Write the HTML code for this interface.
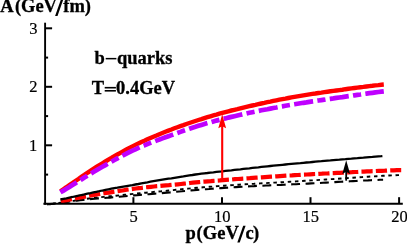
<!DOCTYPE html>
<html><head><meta charset="utf-8"><style>
html,body{margin:0;padding:0;background:#fff;}
svg{display:block;will-change:transform;opacity:0.999}
text{font-family:"Liberation Serif",serif;fill:#000}
.b{font-weight:bold;font-size:18.5px;stroke:#000;stroke-width:0.3px}
.t{font-size:16.5px;stroke:#000;stroke-width:0.2px}
</style></head><body>
<svg width="407" height="246" viewBox="0 0 407 246">
<rect width="407" height="246" fill="#fff"/>
<g fill="none">
<path d="M60.4,191.3 L63.4,189.2 L66.4,187.2 L69.4,185.1 L72.4,183.1 L75.4,181.0 L78.4,179.0 L81.4,176.9 L84.4,174.9 L87.4,172.8 L90.4,170.8 L93.4,168.8 L96.4,166.9 L99.4,165.1 L102.4,163.3 L105.4,161.5 L108.4,159.7 L111.4,158.0 L114.4,156.2 L117.4,154.5 L120.4,152.8 L123.4,151.1 L126.4,149.5 L129.4,147.9 L132.4,146.4 L135.4,144.9 L138.4,143.4 L141.4,142.0 L144.4,140.7 L147.4,139.3 L150.4,138.0 L153.4,136.7 L156.4,135.5 L159.4,134.2 L162.4,133.0 L165.4,131.8 L168.4,130.6 L171.4,129.5 L174.4,128.3 L177.4,127.2 L180.4,126.1 L183.4,125.1 L186.4,124.0 L189.4,123.0 L192.4,122.0 L195.4,121.0 L198.4,120.0 L201.4,119.1 L204.4,118.1 L207.4,117.2 L210.4,116.3 L213.4,115.4 L216.4,114.6 L219.4,113.7 L222.4,112.9 L225.4,112.1 L228.4,111.3 L231.4,110.5 L234.4,109.8 L237.4,109.1 L240.4,108.3 L243.4,107.6 L246.4,106.9 L249.4,106.2 L252.4,105.5 L255.4,104.9 L258.4,104.2 L261.4,103.5 L264.4,102.9 L267.4,102.2 L270.4,101.6 L273.4,100.9 L276.4,100.3 L279.4,99.7 L282.4,99.1 L285.4,98.6 L288.4,98.0 L291.4,97.4 L294.4,96.9 L297.4,96.4 L300.4,95.9 L303.4,95.4 L306.4,94.9 L309.4,94.4 L312.4,93.9 L315.4,93.5 L318.4,93.0 L321.4,92.6 L324.4,92.1 L327.4,91.7 L330.4,91.3 L333.4,90.9 L336.4,90.5 L339.4,90.1 L342.4,89.7 L345.4,89.2 L348.4,88.8 L351.4,88.4 L354.4,88.0 L357.4,87.6 L360.4,87.2 L363.4,86.9 L366.4,86.5 L369.4,86.1 L372.4,85.8 L375.4,85.4 L378.4,85.1 L381.4,84.7 L383.8,84.5" stroke="#ff0000" stroke-width="4.4"/>
<path d="M60.4,192.3 L63.4,190.6 L66.4,188.8 L69.4,187.0 L72.4,185.1 L75.4,183.2 L78.4,181.3 L81.4,179.4 L84.4,177.5 L87.4,175.7 L90.4,173.9 L93.4,172.1 L96.4,170.3 L99.4,168.5 L102.4,166.8 L105.4,165.1 L108.4,163.4 L111.4,161.7 L114.4,160.0 L117.4,158.4 L120.4,156.8 L123.4,155.2 L126.4,153.6 L129.4,152.1 L132.4,150.6 L135.4,149.3 L138.4,147.9 L141.4,146.6 L144.4,145.4 L147.4,144.1 L150.4,142.9 L153.4,141.8 L156.4,140.6 L159.4,139.5 L162.4,138.4 L165.4,137.3 L168.4,136.2 L171.4,135.1 L174.4,134.0 L177.4,132.9 L180.4,131.9 L183.4,130.8 L186.4,129.8 L189.4,128.7 L192.4,127.7 L195.4,126.8 L198.4,125.8 L201.4,124.9 L204.4,124.0 L207.4,123.1 L210.4,122.3 L213.4,121.4 L216.4,120.6 L219.4,119.9 L222.4,119.1 L225.4,118.4 L228.4,117.6 L231.4,116.9 L234.4,116.2 L237.4,115.5 L240.4,114.8 L243.4,114.1 L246.4,113.5 L249.4,112.8 L252.4,112.2 L255.4,111.6 L258.4,110.9 L261.4,110.3 L264.4,109.7 L267.4,109.2 L270.4,108.6 L273.4,108.0 L276.4,107.5 L279.4,106.9 L282.4,106.4 L285.4,105.8 L288.4,105.3 L291.4,104.8 L294.4,104.3 L297.4,103.8 L300.4,103.3 L303.4,102.8 L306.4,102.4 L309.4,101.9 L312.4,101.4 L315.4,101.0 L318.4,100.5 L321.4,100.1 L324.4,99.7 L327.4,99.2 L330.4,98.8 L333.4,98.4 L336.4,97.9 L339.4,97.5 L342.4,97.1 L345.4,96.6 L348.4,96.2 L351.4,95.8 L354.4,95.3 L357.4,94.9 L360.4,94.5 L363.4,94.0 L366.4,93.6 L369.4,93.2 L372.4,92.8 L375.4,92.4 L378.4,92.0 L381.4,91.6 L383.8,91.3" stroke="#bf00ff" stroke-width="4.7" stroke-dasharray="19.2 4.3 8.2 4.3"/>
<path d="M47.0,204.3 L50.0,204.1 L53.0,203.7 L56.0,203.3 L59.0,202.9 L62.0,202.5 L65.0,202.1 L68.0,201.7 L71.0,201.4 L74.0,201.0 L77.0,200.6 L80.0,200.2 L83.0,199.9 L86.0,199.5 L89.0,199.2 L92.0,198.9 L95.0,198.7 L98.0,198.4 L101.0,198.2 L104.0,198.0 L107.0,197.8 L110.0,197.6 L113.0,197.3 L116.0,197.1 L119.0,196.8 L122.0,196.5 L125.0,196.3 L128.0,196.0 L131.0,195.7 L134.0,195.4 L137.0,195.2 L140.0,194.9 L143.0,194.7 L146.0,194.4 L149.0,194.2 L152.0,193.9 L155.0,193.7 L158.0,193.4 L161.0,193.2 L164.0,192.9 L167.0,192.6 L170.0,192.4 L173.0,192.1 L176.0,191.8 L179.0,191.5 L182.0,191.3 L185.0,191.0 L188.0,190.7 L191.0,190.4 L194.0,190.2 L197.0,189.9 L200.0,189.7 L203.0,189.4 L206.0,189.2 L209.0,189.0 L212.0,188.7 L215.0,188.5 L218.0,188.3 L221.0,188.1 L224.0,187.9 L227.0,187.7 L230.0,187.5 L233.0,187.3 L236.0,187.1 L239.0,186.9 L242.0,186.8 L245.0,186.6 L248.0,186.4 L251.0,186.2 L254.0,186.1 L257.0,185.9 L260.0,185.8 L263.0,185.7 L266.0,185.5 L269.0,185.4 L272.0,185.2 L275.0,185.1 L278.0,185.0 L281.0,184.9 L284.0,184.7 L287.0,184.6 L290.0,184.5 L293.0,184.3 L296.0,184.2 L299.0,184.0 L302.0,183.9 L305.0,183.8 L308.0,183.6 L311.0,183.4 L314.0,183.3 L317.0,183.1 L320.0,183.0 L323.0,182.8 L326.0,182.6 L329.0,182.5 L332.0,182.3 L335.0,182.1 L338.0,181.9 L341.0,181.8 L344.0,181.6 L347.0,181.4 L350.0,181.3 L353.0,181.1 L356.0,181.0 L359.0,180.8 L362.0,180.6 L365.0,180.5 L368.0,180.4 L371.0,180.2 L374.0,180.1 L377.0,180.0 L380.0,179.8 L383.0,179.7 L383.1,179.7" stroke="#000" stroke-width="2.1" stroke-dasharray="8.88 5.53" stroke-dashoffset="-0.12"/>
<path d="M47.0,204.3 L50.0,204.0 L53.0,203.7 L56.0,203.3 L59.0,202.9 L62.0,202.5 L65.0,202.0 L68.0,201.6 L71.0,201.1 L74.0,200.7 L77.0,200.2 L80.0,199.8 L83.0,199.3 L86.0,198.9 L89.0,198.5 L92.0,198.1 L95.0,197.8 L98.0,197.4 L101.0,197.2 L104.0,196.9 L107.0,196.6 L110.0,196.3 L113.0,196.1 L116.0,195.7 L119.0,195.4 L122.0,195.1 L125.0,194.7 L128.0,194.4 L131.0,194.1 L134.0,193.8 L137.0,193.5 L140.0,193.2 L143.0,192.9 L146.0,192.7 L149.0,192.4 L152.0,192.1 L155.0,191.8 L158.0,191.5 L161.0,191.3 L164.0,191.0 L167.0,190.7 L170.0,190.4 L173.0,190.1 L176.0,189.8 L179.0,189.5 L182.0,189.2 L185.0,188.9 L188.0,188.6 L191.0,188.4 L194.0,188.1 L197.0,187.8 L200.0,187.6 L203.0,187.3 L206.0,187.1 L209.0,186.8 L212.0,186.6 L215.0,186.4 L218.0,186.1 L221.0,185.9 L224.0,185.7 L227.0,185.5 L230.0,185.3 L233.0,185.1 L236.0,184.9 L239.0,184.7 L242.0,184.5 L245.0,184.3 L248.0,184.1 L251.0,183.9 L254.0,183.8 L257.0,183.6 L260.0,183.4 L263.0,183.2 L266.0,183.1 L269.0,182.9 L272.0,182.7 L275.0,182.6 L278.0,182.4 L281.0,182.2 L284.0,182.1 L287.0,181.9 L290.0,181.7 L293.0,181.5 L296.0,181.4 L299.0,181.2 L302.0,181.0 L305.0,180.8 L308.0,180.6 L311.0,180.4 L314.0,180.3 L317.0,180.1 L320.0,179.9 L323.0,179.7 L326.0,179.5 L329.0,179.3 L332.0,179.1 L335.0,178.9 L338.0,178.7 L341.0,178.5 L344.0,178.3 L347.0,178.1 L350.0,177.9 L353.0,177.7 L356.0,177.5 L359.0,177.3 L362.0,177.1 L365.0,176.9 L368.0,176.7 L371.0,176.5 L374.0,176.4 L377.0,176.2 L380.0,176.0 L383.0,175.8 L386.0,175.7 L389.0,175.5 L392.0,175.4 L395.0,175.3 L398.0,175.1 L399.0,175.1" stroke="#000" stroke-width="1.9" stroke-dasharray="3.5 3.7" stroke-dashoffset="-4.3"/>
<path d="M60.9,201.5 L63.9,200.8 L66.9,200.2 L69.9,199.5 L72.9,198.9 L75.9,198.3 L78.9,197.7 L81.9,197.1 L84.9,196.6 L87.9,196.0 L90.9,195.5 L93.9,195.0 L96.9,194.5 L99.9,194.0 L102.9,193.5 L105.9,193.0 L108.9,192.6 L111.9,192.1 L114.9,191.6 L117.9,191.1 L120.9,190.7 L123.9,190.2 L126.9,189.7 L129.9,189.3 L132.9,188.9 L135.9,188.5 L138.9,188.1 L141.9,187.8 L144.9,187.4 L147.9,187.1 L150.9,186.8 L153.9,186.5 L156.9,186.2 L159.9,186.0 L162.9,185.7 L165.9,185.4 L168.9,185.2 L171.9,184.9 L174.9,184.6 L177.9,184.3 L180.9,184.0 L183.9,183.7 L186.9,183.4 L189.9,183.0 L192.9,182.7 L195.9,182.4 L198.9,182.1 L201.9,181.8 L204.9,181.6 L207.9,181.3 L210.9,181.1 L213.9,180.8 L216.9,180.6 L219.9,180.4 L222.9,180.1 L225.9,179.9 L228.9,179.7 L231.9,179.5 L234.9,179.2 L237.9,179.0 L240.9,178.8 L243.9,178.6 L246.9,178.4 L249.9,178.2 L252.9,177.9 L255.9,177.7 L258.9,177.5 L261.9,177.3 L264.9,177.1 L267.9,176.9 L270.9,176.7 L273.9,176.5 L276.9,176.3 L279.9,176.1 L282.9,175.9 L285.9,175.7 L288.9,175.5 L291.9,175.4 L294.9,175.2 L297.9,175.0 L300.9,174.8 L303.9,174.6 L306.9,174.5 L309.9,174.3 L312.9,174.1 L315.9,174.0 L318.9,173.8 L321.9,173.7 L324.9,173.5 L327.9,173.4 L330.9,173.2 L333.9,173.1 L336.9,172.9 L339.9,172.8 L342.9,172.6 L345.9,172.5 L348.9,172.3 L351.9,172.2 L354.9,172.0 L357.9,171.9 L360.9,171.7 L363.9,171.6 L366.9,171.4 L369.9,171.3 L372.9,171.2 L375.9,171.0 L378.9,170.9 L381.9,170.8 L384.9,170.7 L387.9,170.5 L390.9,170.4 L393.9,170.3 L396.9,170.2 L399.9,170.1 L401.2,170.1" stroke="#ff0000" stroke-width="4.2" stroke-dasharray="11.2 3.2"/>
<path d="M60.4,199.5 L63.4,198.9 L66.4,198.3 L69.4,197.6 L72.4,197.0 L75.4,196.3 L78.4,195.7 L81.4,195.0 L84.4,194.4 L87.4,193.7 L90.4,193.1 L93.4,192.4 L96.4,191.8 L99.4,191.2 L102.4,190.5 L105.4,189.9 L108.4,189.3 L111.4,188.7 L114.4,188.2 L117.4,187.7 L120.4,187.1 L123.4,186.6 L126.4,186.1 L129.4,185.6 L132.4,185.1 L135.4,184.5 L138.4,184.0 L141.4,183.4 L144.4,182.8 L147.4,182.3 L150.4,181.7 L153.4,181.2 L156.4,180.7 L159.4,180.2 L162.4,179.7 L165.4,179.2 L168.4,178.7 L171.4,178.3 L174.4,177.8 L177.4,177.3 L180.4,176.8 L183.4,176.4 L186.4,175.9 L189.4,175.4 L192.4,175.0 L195.4,174.5 L198.4,174.1 L201.4,173.7 L204.4,173.3 L207.4,173.0 L210.4,172.6 L213.4,172.3 L216.4,171.9 L219.4,171.6 L222.4,171.3 L225.4,170.9 L228.4,170.6 L231.4,170.3 L234.4,169.9 L237.4,169.6 L240.4,169.3 L243.4,168.9 L246.4,168.6 L249.4,168.3 L252.4,167.9 L255.4,167.6 L258.4,167.3 L261.4,166.9 L264.4,166.6 L267.4,166.3 L270.4,166.0 L273.4,165.7 L276.4,165.4 L279.4,165.1 L282.4,164.8 L285.4,164.5 L288.4,164.2 L291.4,163.9 L294.4,163.6 L297.4,163.3 L300.4,163.1 L303.4,162.8 L306.4,162.5 L309.4,162.3 L312.4,162.0 L315.4,161.7 L318.4,161.4 L321.4,161.2 L324.4,160.9 L327.4,160.6 L330.4,160.4 L333.4,160.1 L336.4,159.8 L339.4,159.6 L342.4,159.3 L345.4,159.1 L348.4,158.8 L351.4,158.6 L354.4,158.3 L357.4,158.1 L360.4,157.8 L363.4,157.6 L366.4,157.3 L369.4,157.1 L372.4,156.9 L375.4,156.6 L378.4,156.4 L381.4,156.2 L382.4,156.1" stroke="#000" stroke-width="2.3"/>
</g>
<g stroke="#000" stroke-width="1.9" fill="none">
<line x1="45.1" x2="45.1" y1="22.7" y2="204.70000000000002"/>
<line x1="43.4" x2="402.8" y1="203.8" y2="203.8"/>
</g>
<g stroke="#000" stroke-width="2"><line x1="45.1" x2="48.1" y1="174.6" y2="174.6"/><line x1="45.1" x2="52.1" y1="145.3" y2="145.3"/><line x1="45.1" x2="48.1" y1="116.1" y2="116.1"/><line x1="45.1" x2="52.1" y1="86.8" y2="86.8"/><line x1="45.1" x2="48.1" y1="57.6" y2="57.6"/><line x1="45.1" x2="52.1" y1="28.3" y2="28.3"/><line x1="133.4" x2="133.4" y1="203.8" y2="197.20000000000002"/><line x1="222.0" x2="222.0" y1="203.8" y2="197.20000000000002"/><line x1="310.5" x2="310.5" y1="203.8" y2="197.20000000000002"/><line x1="399.1" x2="399.1" y1="203.8" y2="197.20000000000002"/></g>
<!-- arrows -->
<line x1="222.2" x2="222.2" y1="178.5" y2="124" stroke="#ff0000" stroke-width="2.1"/>
<path d="M222.2,114.3 L226.1,128.3 L222.2,126.2 L218.3,128.3 Z" fill="#ff0000"/>
<line x1="346.2" x2="346.2" y1="180.7" y2="170" stroke="#000" stroke-width="1.8"/>
<path d="M346.2,160.2 L350.1,174 L346.2,171.8 L342.3,174 Z" fill="#000"/>
<text class="b" y="12.4"><tspan x="0.3">A</tspan><tspan x="14.9">(</tspan><tspan x="21.0">GeV</tspan><tspan x="63.3">fm)</tspan></text><path d="M55.1,15.9 L57.5,15.9 L63.4,-0.8 L61.0,-0.8 Z" fill="#000"/>
<text class="b" y="239"><tspan x="185.5">p</tspan><tspan x="196.4">(</tspan><tspan x="202.85">GeV</tspan><tspan x="245.45">c</tspan><tspan x="253.1">)</tspan></text><path d="M237.3,242.5 L239.7,242.5 L245.6,225.8 L243.2,225.8 Z" fill="#000"/>
<text class="b" x="94.5" y="63.7">b</text><rect x="105.7" y="57.9" width="10.7" height="1.5" fill="#000"/><text class="b" x="117.0" y="63.7">quarks</text>
<text class="b" x="91.7" y="93.7">T</text><rect x="104.7" y="86.9" width="11.2" height="1.6" fill="#000"/><rect x="104.7" y="90.0" width="11.2" height="1.6" fill="#000"/><text class="b" x="116.1" y="93.7">0.4GeV</text>
<text class="t" x="37.4" y="34.3" text-anchor="end">3</text>
<text class="t" x="37.4" y="92.3" text-anchor="end">2</text>
<text class="t" x="37.2" y="150.9" text-anchor="end">1</text>
<text class="t" x="133.5" y="221.9" text-anchor="middle">5</text>
<text class="t" x="222.3" y="221.9" text-anchor="middle">10</text>
<text class="t" x="310.8" y="221.9" text-anchor="middle">15</text>
<text class="t" x="399.4" y="221.9" text-anchor="middle">20</text>
</svg>
</body></html>
